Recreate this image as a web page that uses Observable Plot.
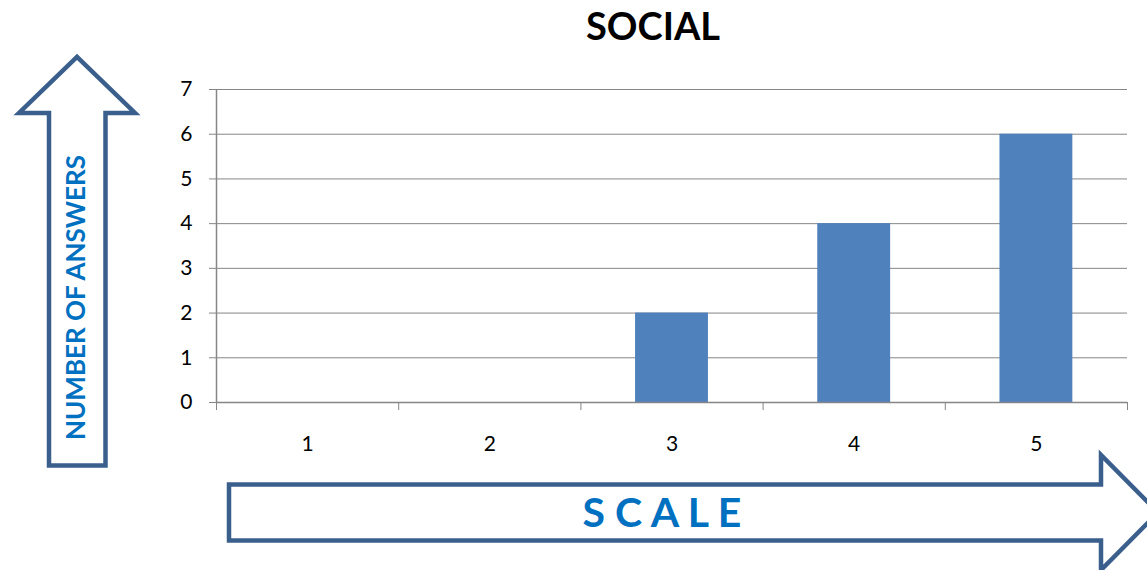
<!DOCTYPE html>
<html>
<head>
<meta charset="utf-8">
<script src="https://cdn.jsdelivr.net/npm/d3@7"></script>
<script src="https://cdn.jsdelivr.net/npm/@observablehq/plot@0.6"></script>
<style>
  html, body { margin: 0; padding: 0; background: #fff; }
  #chart { width: 1147px; height: 570px; }
</style>
</head>
<body>
<div id="chart"></div>
<script>
const title = "SOCIAL";
const yLabel = "NUMBER OF ANSWERS";
const xLabel = "S C A L E";
const categories = [1, 2, 3, 4, 5];
const counts = [0, 0, 2, 4, 6];
const yTicks = [0, 1, 2, 3, 4, 5, 6, 7];

const data = categories.map((c, i) => ({scale: c, count: counts[i]}));
const boundaries = categories.map(c => c - 0.5).concat([categories[categories.length - 1] + 0.5]);
const half = 0.2;
const gray = "#868686";

const plot = Plot.plot({
  width: 1147,
  height: 570,
  marginTop: 89,
  marginBottom: 168,
  marginLeft: 216,
  marginRight: 20,
  style: {fontFamily: "Lato, 'Open Sans', sans-serif", fontSize: "20px", color: "#000", background: "#fff"},
  x: {domain: [boundaries[0], boundaries[boundaries.length - 1]]},
  y: {domain: [0, 7]},
  marks: [
    Plot.gridY({ticks: yTicks, stroke: gray, strokeOpacity: 1}),
    Plot.rectY(data, {x1: d => d.scale - half, x2: d => d.scale + half, y: "count", fill: "#4F81BD"}),
    Plot.ruleY([0], {stroke: gray, strokeWidth: 1.5}),
    Plot.ruleX([boundaries[0]], {stroke: gray, strokeWidth: 1.5}),
    Plot.axisY({ticks: yTicks, tickFormat: d3.format("d"), tickSize: 7, tickPadding: 17, stroke: gray, fill: "#000", fontSize: 21, label: null}),
    Plot.axisX({ticks: boundaries, tickFormat: () => "", tickSize: 8, stroke: gray, label: null}),
    Plot.axisX({ticks: categories, tickFormat: d => String(d), tickSize: 0, tickPadding: 34, fill: "#000", fontSize: 21, label: null})
  ]
});

document.getElementById("chart").appendChild(plot);

// decorations: title and arrow-shaped axis labels
const svg = d3.select(plot);
const deco = svg.append("g");
const arrowStroke = "#3A5F8D";

deco.append("text")
  .attr("x", 653).attr("y", 40)
  .attr("text-anchor", "middle")
  .style("font-family", "Lato, sans-serif")
  .style("font-weight", "bold")
  .style("font-size", "38px")
  .attr("fill", "#000")
  .text(title);

// vertical arrow
deco.append("path")
  .attr("d", "M49,465.5 L49,113 L19,113 L77,57 L135,113 L105.5,113 L105.5,465.5 Z")
  .attr("fill", "#fff").attr("stroke", arrowStroke).attr("stroke-width", 4.5)
  .attr("stroke-linejoin", "miter");

deco.append("text")
  .attr("transform", "translate(85,297.5) rotate(-90)")
  .attr("text-anchor", "middle")
  .style("font-family", "Lato, sans-serif")
  .style("font-weight", "bold")
  .style("font-size", "26px")
  .attr("fill", "#0070C0")
  .text(yLabel);

// horizontal arrow
deco.append("path")
  .attr("d", "M229,484.5 L1101,484.5 L1101,455 L1158,512.5 L1101,570 L1101,540.5 L229,540.5 Z")
  .attr("fill", "#fff").attr("stroke", arrowStroke).attr("stroke-width", 4.5)
  .attr("stroke-linejoin", "miter");

deco.append("text")
  .attr("x", 662).attr("y", 527)
  .attr("text-anchor", "middle")
  .style("font-family", "Lato, sans-serif")
  .style("font-weight", "bold")
  .style("font-size", "41px")
  .attr("fill", "#0070C0")
  .text(xLabel);
</script>
</body>
</html>
